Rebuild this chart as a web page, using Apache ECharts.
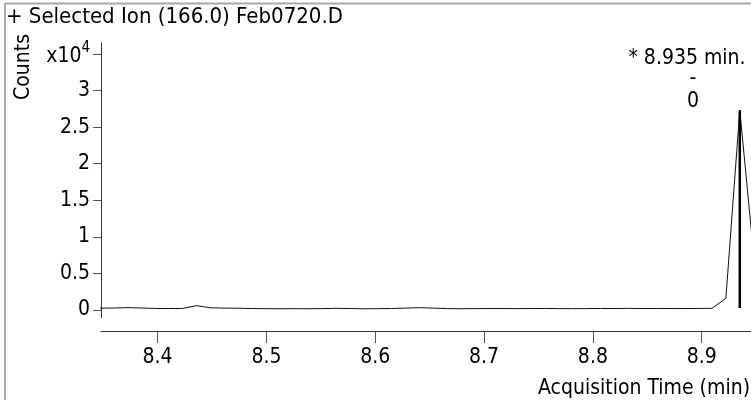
<!DOCTYPE html>
<html><head><meta charset="utf-8">
<script src="https://cdn.jsdelivr.net/npm/echarts@6/dist/echarts.min.js"></script>
<style>html,body{margin:0;padding:0;background:#fff}#c{width:751px;height:400px}</style>
</head><body><div id="c"></div><script>
const titleText = '+ Selected Ion (166.0) Feb0720.D';
const xName = 'Acquisition Time (min)';
const yName = 'Counts';
const times = [8.3334, 8.3462, 8.3590, 8.3718, 8.3846, 8.3974, 8.4102, 8.4230, 8.4358, 8.4486,
  8.4614, 8.4742, 8.4870, 8.4998, 8.5126, 8.5254, 8.5382, 8.5510, 8.5638, 8.5766,
  8.5894, 8.6022, 8.6150, 8.6278, 8.6406, 8.6534, 8.6662, 8.6790, 8.6918, 8.7046,
  8.7174, 8.7302, 8.7430, 8.7558, 8.7686, 8.7814, 8.7942, 8.8070, 8.8198, 8.8326,
  8.8454, 8.8582, 8.8710, 8.8838, 8.8966, 8.9094, 8.9222, 8.9350, 8.9478];
const counts = [240, 250, 270, 320, 280, 210, 200, 210, 590, 300,
  260, 240, 200, 180, 170, 180, 170, 190, 230, 200,
  170, 180, 200, 260, 320, 260, 190, 170, 190, 200,
  200, 190, 200, 210, 190, 180, 190, 210, 200, 220,
  200, 210, 200, 200, 210, 220, 1600, 27300, 7500];
const peakTime = 8.935;
const peakTop = 27300;
const peakBase = 270;
const peakLabel = ['* 8.935 min.', '-', '0'];
const xTicks = [8.4, 8.5, 8.6, 8.7, 8.8, 8.9];
const yTicks = [0, 5000, 10000, 15000, 20000, 25000, 30000, 35000];
const yTickLabels = ['0', '0.5', '1', '1.5', '2', '2.5', '3', '{a|x10}{b|4}'];

const FONT = "'DejaVu Sans Condensed', 'DejaVu Sans', sans-serif";
const chart = echarts.init(document.getElementById('c'), null, {renderer: 'canvas'});
chart.setOption({
  animation: false,
  backgroundColor: '#fff',
  grid: {left: 101, right: 0, top: 43, bottom: 82},
  xAxis: {
    type: 'value', min: 8.348, max: 8.9453, offset: 13,
    axisLine: {onZero: false, lineStyle: {color: '#333', width: 1}},
    axisTick: {length: 12, customValues: xTicks, lineStyle: {color: '#555'}},
    axisLabel: {customValues: xTicks, margin: 16, fontSize: 21, color: '#000', fontFamily: FONT,
      formatter: v => v.toFixed(1)},
    splitLine: {show: false}
  },
  yAxis: {
    type: 'value', min: -1094, max: 36505,
    axisLine: {show: true, onZero: false, lineStyle: {color: '#333', width: 1}},
    axisTick: {show: true, length: 8, customValues: yTicks, lineStyle: {color: '#555'}},
    axisLabel: {customValues: yTicks, margin: 11, fontSize: 21, color: '#000', fontFamily: FONT,
      formatter: v => yTickLabels[yTicks.indexOf(v)],
      rich: {
        a: {fontSize: 21, fontFamily: FONT, color: '#000', padding: [6, 0, 0, 0]},
        b: {fontSize: 15, fontFamily: FONT, color: '#000', verticalAlign: 'top'}
      }},
    splitLine: {show: false}
  },
  series: [
    {type: 'line', data: times.map((t, i) => [t, counts[i]]), showSymbol: false, clip: true,
      lineStyle: {color: '#111', width: 1}},
    {type: 'line', data: [[peakTime, peakBase], [peakTime, peakTop]], showSymbol: false,
      lineStyle: {color: '#000', width: 2.5}}
  ],
  graphic: [
    {type: 'line', shape: {x1: 5, y1: 3.5, x2: 751, y2: 3.5}, style: {stroke: '#a8a8a8', lineWidth: 2}},
    {type: 'line', shape: {x1: 5, y1: 3, x2: 5, y2: 400}, style: {stroke: '#a8a8a8', lineWidth: 2}},
    {type: 'text', left: 6, top: 6, style: {text: titleText, fontSize: 22, fontFamily: FONT, fill: '#000'}},
    {type: 'text', x: 24, y: 67, rotation: Math.PI / 2,
      style: {text: yName, fontSize: 21, fontFamily: FONT, fill: '#000', align: 'center', verticalAlign: 'middle'}},
    {type: 'text', x: 750, y: 389,
      style: {text: xName, fontSize: 21, fontFamily: FONT, fill: '#000', align: 'right', verticalAlign: 'middle'}},
    {type: 'text', x: 687, y: 59,
      style: {text: peakLabel[0], fontSize: 21, fontFamily: FONT, fill: '#000', align: 'center', verticalAlign: 'middle'}},
    {type: 'text', x: 693, y: 79,
      style: {text: peakLabel[1], fontSize: 21, fontFamily: FONT, fill: '#000', align: 'center', verticalAlign: 'middle'}},
    {type: 'text', x: 693, y: 102,
      style: {text: peakLabel[2], fontSize: 21, fontFamily: FONT, fill: '#000', align: 'center', verticalAlign: 'middle'}}
  ]
});
</script></body></html>
